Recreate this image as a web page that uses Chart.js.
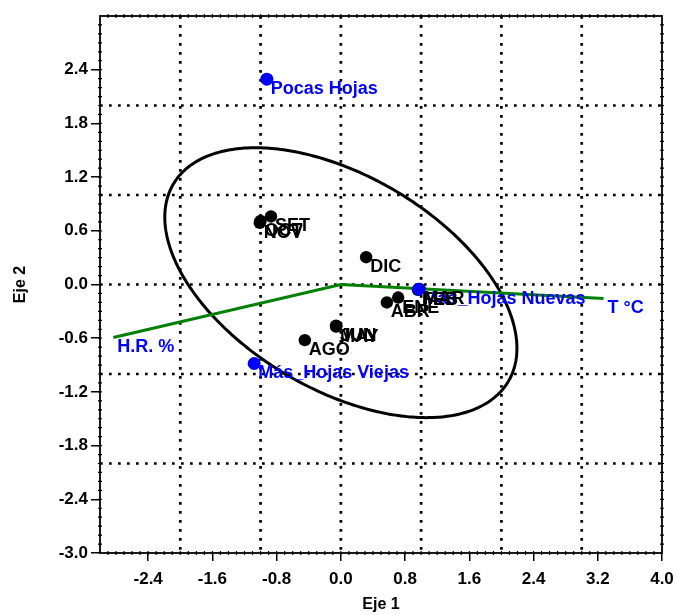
<!DOCTYPE html>
<html><head><meta charset="utf-8">
<script src="https://cdn.jsdelivr.net/npm/chart.js@4.4.1/dist/chart.umd.min.js"></script>
<style>html,body{margin:0;padding:0;background:#fff;}</style>
</head><body>
<canvas id="c" width="677" height="615"></canvas>
<script>
// ---- data ----
const monthLabels = ['ENE','FEB','MAR','ABR','MAY','JUN','JUL','AGO','SET','OCT','NOV','DIC'];
const monthX = [0.714, 0.96, 0.98, 0.573, -0.06, -0.055, -0.06, -0.449, -0.87, -1.00, -1.01, 0.315];
const monthY = [-0.146, -0.06, -0.05, -0.201, -0.47, -0.465, -0.46, -0.622, 0.76, 0.71, 0.69, 0.305];

const leafLabels = ['Pocas Hojas', 'Más_Hojas Nuevas', 'Más_Hojas Viejas'];
const leafX = [-0.922, 0.967, -1.080];
const leafY = [2.294, -0.053, -0.883];

const varLabels = ['H.R. %', 'T °C'];
const varX = [-2.834, 3.272];
const varY = [-0.592, -0.156];

const ellipseCenter = [0.0, 0.02];
const ellipseAxisA = [2.193, -0.732];
const ellipseAxisB = [0.0, 1.318];

const xTickValues = [-2.4, -1.6, -0.8, 0.0, 0.8, 1.6, 2.4, 3.2, 4.0];
const yTickValues = [-3.0, -2.4, -1.8, -1.2, -0.6, 0.0, 0.6, 1.2, 1.8, 2.4];
const gridX = [-2, -1, 0, 1, 2, 3];
const gridY = [-2, -1, 0, 1, 2];
const xRange = [-3, 4];
const yRange = [-3, 3];
const minorStep = 0.1;

const FAM = "'Liberation Sans', Arial, Helvetica, sans-serif";

const decor = {
  id: 'decor',
  beforeDatasetsDraw(chart) {
    const {ctx, chartArea: a, scales: {x, y}} = chart;
    ctx.save();
    ctx.strokeStyle = '#000';
    ctx.lineWidth = 2.7;
    ctx.setLineDash([2.7, 6.3]);
    gridX.forEach(v => {
      const px = x.getPixelForValue(v);
      ctx.beginPath(); ctx.moveTo(px, a.top); ctx.lineTo(px, a.bottom); ctx.stroke();
    });
    gridY.forEach(v => {
      const py = y.getPixelForValue(v);
      ctx.beginPath(); ctx.moveTo(a.left, py); ctx.lineTo(a.right, py); ctx.stroke();
    });
    ctx.restore();
    // ellipse
    ctx.save();
    ctx.strokeStyle = '#000';
    ctx.lineWidth = 3;
    ctx.beginPath();
    const N = 360;
    for (let i = 0; i <= N; i++) {
      const t = i / N * Math.PI * 2;
      const vx = ellipseCenter[0] + ellipseAxisA[0] * Math.cos(t) + ellipseAxisB[0] * Math.sin(t);
      const vy = ellipseCenter[1] + ellipseAxisA[1] * Math.cos(t) + ellipseAxisB[1] * Math.sin(t);
      const px = x.getPixelForValue(vx), py = y.getPixelForValue(vy);
      if (i === 0) ctx.moveTo(px, py); else ctx.lineTo(px, py);
    }
    ctx.closePath();
    ctx.stroke();
    ctx.restore();
  },
  afterDatasetsDraw(chart) {
    const {ctx, chartArea: a, scales: {x, y}} = chart;
    // labels
    ctx.save();
    ctx.textAlign = 'left';
    ctx.textBaseline = 'middle';
    ctx.font = 'bold 18px ' + FAM;
    chart.data.datasets.forEach((ds, di) => {
      if (!ds.labelTexts || ds.labelColor !== '#0000ff') return;
      const meta = chart.getDatasetMeta(di);
      ctx.fillStyle = ds.labelColor;
      ds.labelTexts.forEach((txt, i) => {
        const idx = ds.labelIndex ? ds.labelIndex[i] : i;
        const pt = meta.data[idx];
        ctx.fillText(txt, pt.x + 4, pt.y + 10);
      });
    });
    chart.data.datasets.forEach((ds, di) => {
      if (!ds.labelTexts || ds.labelColor === '#0000ff') return;
      const meta = chart.getDatasetMeta(di);
      ctx.fillStyle = ds.labelColor;
      ds.labelTexts.forEach((txt, i) => {
        const pt = meta.data[i];
        ctx.fillText(txt, pt.x + 4, pt.y + 10);
      });
    });
    ctx.restore();
    // border + minor ticks
    ctx.save();
    ctx.strokeStyle = '#000';
    ctx.lineWidth = 1.8;
    ctx.strokeRect(a.left, a.top, a.right - a.left, a.bottom - a.top);
    ctx.lineWidth = 1.2;
    ctx.beginPath();
    const nx = Math.round((xRange[1] - xRange[0]) / minorStep);
    for (let i = 1; i < nx; i++) {
      const px = x.getPixelForValue(xRange[0] + i * minorStep);
      ctx.moveTo(px, a.bottom - 2); ctx.lineTo(px, a.bottom + 2);
      ctx.moveTo(px, a.top - 2); ctx.lineTo(px, a.top + 2);
    }
    const ny = Math.round((yRange[1] - yRange[0]) / minorStep);
    for (let i = 1; i < ny; i++) {
      const py = y.getPixelForValue(yRange[0] + i * minorStep);
      ctx.moveTo(a.left - 2, py); ctx.lineTo(a.left + 2, py);
      ctx.moveTo(a.right - 2, py); ctx.lineTo(a.right + 2, py);
    }
    ctx.stroke();
    ctx.restore();
  }
};

const tickFont = {family: FAM, size: 17, weight: 'bold'};
const titleFont = {family: FAM, size: 16, weight: 'bold'};

new Chart(document.getElementById('c'), {
  type: 'scatter',
  data: {
    datasets: [
      {
        label: 'hojas',
        order: 0,
        data: leafX.map((v, i) => ({x: v, y: leafY[i]})),
        backgroundColor: '#0000ff', borderColor: '#0000ff',
        pointRadius: 6.5, pointHoverRadius: 6.5, borderWidth: 0,
        labelTexts: leafLabels, labelColor: '#0000ff'
      },
      {
        label: 'meses',
        order: 1,
        data: monthX.map((v, i) => ({x: v, y: monthY[i]})),
        backgroundColor: '#000', borderColor: '#000',
        pointRadius: 6.2, pointHoverRadius: 6.2, borderWidth: 0,
        labelTexts: monthLabels, labelColor: '#000'
      },
      {
        label: 'variables',
        type: 'line',
        order: 2,
        data: [{x: varX[0], y: varY[0]}, {x: 0, y: 0}, {x: varX[1], y: varY[1]}],
        borderColor: '#008000', backgroundColor: '#008000',
        borderWidth: 3, pointRadius: 0, fill: false, tension: 0,
        labelTexts: varLabels, labelIndex: [0, 2], labelColor: '#0000ff'
      }
    ]
  },
  options: {
    responsive: false,
    animation: false,
    events: [],
    layout: {padding: {top: 16, right: 15, left: 0, bottom: 0}},
    plugins: {legend: {display: false}, tooltip: {enabled: false}},
    scales: {
      x: {
        type: 'linear', min: xRange[0], max: xRange[1],
        afterBuildTicks: s => { s.ticks = xTickValues.map(v => ({value: v})); },
        afterFit: s => { s.height = 62; s.paddingLeft = 0; s.paddingRight = 0; },
        ticks: {font: tickFont, color: '#000', padding: 8, maxRotation: 0, autoSkip: false,
                callback: v => Number(v).toFixed(1)},
        grid: {drawOnChartArea: false, drawTicks: true, tickLength: 8, color: '#000', lineWidth: 1.5},
        border: {display: false},
        title: {display: true, text: 'Eje 1', font: titleFont, color: '#000', padding: {top: 0, bottom: 1}}
      },
      y: {
        type: 'linear', min: yRange[0], max: yRange[1],
        afterBuildTicks: s => { s.ticks = yTickValues.map(v => ({value: v})); },
        afterFit: s => { s.width = 100; s.paddingTop = 0; s.paddingBottom = 0; },
        ticks: {font: tickFont, color: '#000', padding: 3, autoSkip: false,
                callback: v => Number(v).toFixed(1)},
        grid: {drawOnChartArea: false, drawTicks: true, tickLength: 9, color: '#000', lineWidth: 1.5},
        border: {display: false},
        title: {display: true, text: 'Eje 2', font: titleFont, color: '#000', padding: {top: 11, bottom: 0}}
      }
    }
  },
  plugins: [decor]
});
</script>
</body></html>
